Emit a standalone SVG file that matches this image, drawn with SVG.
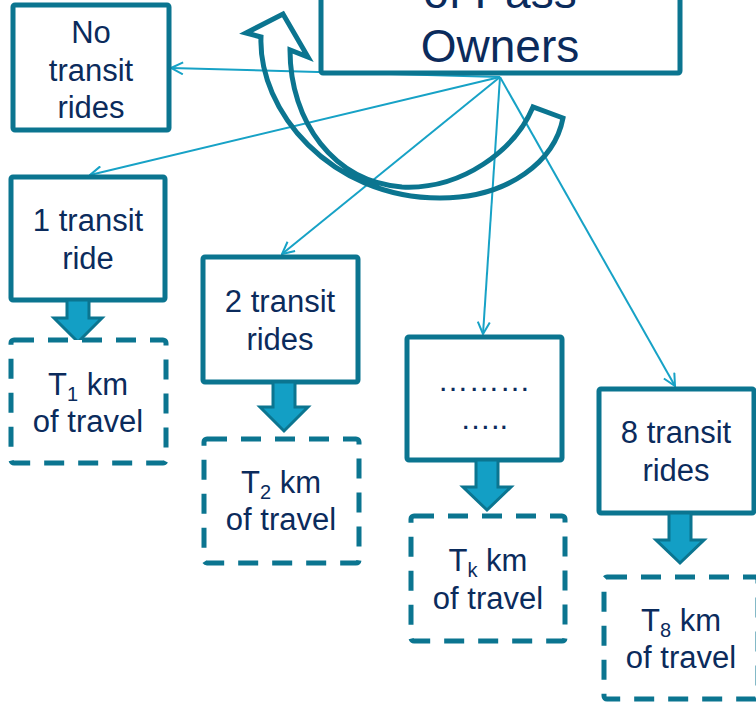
<svg xmlns="http://www.w3.org/2000/svg" width="756" height="702" viewBox="0 0 756 702">
<style>
.box{fill:#fff;stroke:#0b7590;stroke-width:5;}
.dash{fill:#fff;stroke:#0b7590;stroke-width:5;stroke-dasharray:20 14;}
.t{font-family:"Liberation Sans",Arial,sans-serif;font-size:31px;fill:#0b2b5c;text-anchor:middle;}
.big{font-size:46px;}
.con{stroke:#17a2c6;stroke-width:2;fill:none;marker-end:url(#ah);}
.blk{fill:#139fc5;stroke:#0b7590;stroke-width:3;stroke-linejoin:miter;}
.curve{fill:none;stroke:#0b7590;stroke-width:5;stroke-linejoin:miter;}
</style>
<defs>
<marker id="ah" viewBox="0 0 14 14" refX="13" refY="7" markerWidth="14" markerHeight="14" markerUnits="userSpaceOnUse" orient="auto">
<path d="M1,1 L13,7 L1,13" fill="none" stroke="#17a2c6" stroke-width="2"/>
</marker>
</defs>
<rect width="756" height="702" fill="#fff"/>
<g id="connectors">
<line class="con" x1="500" y1="77" x2="171" y2="68"/>
<line class="con" x1="500" y1="77" x2="90" y2="175"/>
<line class="con" x1="500" y1="77" x2="282" y2="254"/>
<line class="con" x1="500" y1="77" x2="483" y2="334"/>
<line class="con" x1="500" y1="77" x2="675" y2="386"/>
</g>
<g id="curved-arrow">
<path class="curve" d="M261,37 L246,33 L283,14 L308,57 L290,50 C290,122 334,182 402,187 C462,190 515,150 533,107 L563,118 C555,160 510,198 440,198 C330,198 258,110 261,37 Z"/>
</g>
<g id="owners">
<rect class="box" x="321" y="-20" width="359" height="93" rx="2"/>
<text class="t big" x="500" y="8">of Pass</text>
<text class="t big" x="500" y="62">Owners</text>
</g>
<g id="no-transit">
<rect class="box" x="13" y="5" width="156" height="125" rx="2"/>
<text class="t" x="91" y="43">No</text>
<text class="t" x="91" y="81">transit</text>
<text class="t" x="91" y="118">rides</text>
</g>
<g id="ride1">
<rect class="box" x="11" y="177" width="154" height="123" rx="2"/>
<text class="t" x="88" y="231">1 transit</text>
<text class="t" x="88" y="269">ride</text>
</g>
<g id="ride2">
<rect class="box" x="203" y="257" width="155" height="125" rx="2"/>
<text class="t" x="280" y="312">2 transit</text>
<text class="t" x="280" y="350">rides</text>
</g>
<g id="ridek">
<rect class="box" x="407" y="337" width="155" height="123" rx="2"/>
<text class="t" x="484" y="391">………</text>
<text class="t" x="484" y="429">…..</text>
</g>
<g id="ride8">
<rect class="box" x="599" y="389" width="155" height="124" rx="2"/>
<text class="t" x="676" y="443">8 transit</text>
<text class="t" x="676" y="481">rides</text>
</g>
<g id="arrow1"><path class="blk" d="M67,300 L89,300 L89,318 L102,318 L78,342 L54,318 L67,318 Z"/></g>
<g id="arrow2"><path class="blk" d="M273,382 L295,382 L295,407 L308,407 L284,431 L260,407 L273,407 Z"/></g>
<g id="arrowk"><path class="blk" d="M476,460 L498,460 L498,487 L511,487 L487,510 L463,487 L476,487 Z"/></g>
<g id="arrow8"><path class="blk" d="M669,513 L691,513 L691,540 L704,540 L680,563 L656,540 L669,540 Z"/></g>
<g id="km1">
<rect class="dash" x="11" y="340" width="155" height="123" rx="3"/>
<text class="t" x="88" y="395">T<tspan font-size="20" dy="6">1</tspan><tspan dy="-6"> km</tspan></text>
<text class="t" x="88" y="432">of travel</text>
</g>
<g id="km2">
<rect class="dash" x="204" y="439" width="155" height="124" rx="3"/>
<text class="t" x="281" y="493">T<tspan font-size="20" dy="6">2</tspan><tspan dy="-6"> km</tspan></text>
<text class="t" x="281" y="530">of travel</text>
</g>
<g id="kmk">
<rect class="dash" x="411" y="516" width="154" height="125" rx="3"/>
<text class="t" x="488" y="571">T<tspan font-size="20" dy="6">k</tspan><tspan dy="-6"> km</tspan></text>
<text class="t" x="488" y="609">of travel</text>
</g>
<g id="km8">
<rect class="dash" x="604" y="577" width="154" height="122" rx="3"/>
<text class="t" x="681" y="631">T<tspan font-size="20" dy="6">8</tspan><tspan dy="-6"> km</tspan></text>
<text class="t" x="681" y="668">of travel</text>
</g>
</svg>
